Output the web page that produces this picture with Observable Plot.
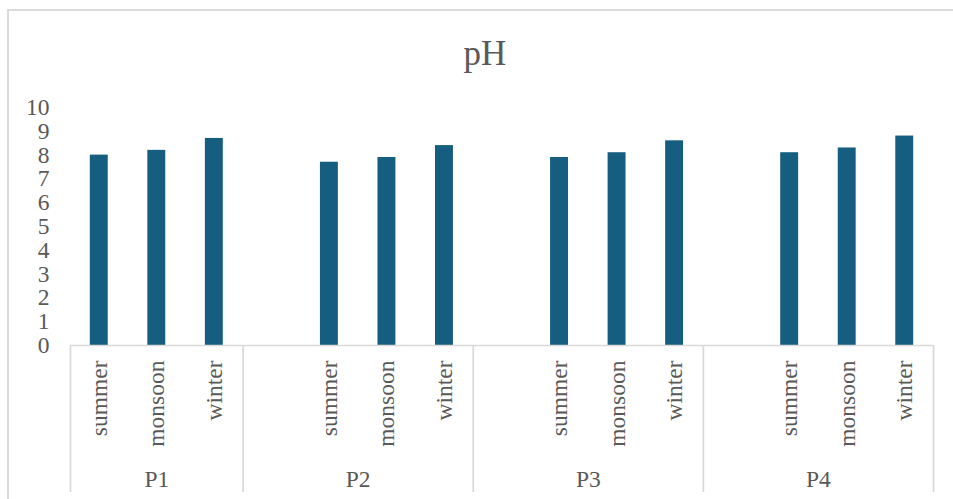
<!DOCTYPE html>
<html><head><meta charset="utf-8">
<script src="https://cdn.jsdelivr.net/npm/d3@7"></script>
<script src="https://cdn.jsdelivr.net/npm/@observablehq/plot@0.6"></script>
<style>
body{margin:0;background:#fff;}
#wrap{position:relative;width:953px;height:499px;overflow:hidden;font-family:"Liberation Serif","Times New Roman",serif;}
#border{position:absolute;left:7px;top:9px;width:1000px;height:600px;border-left:2px solid #dadada;border-top:2px solid #dadada;}
#title{position:absolute;left:485px;top:36px;transform:translateX(-50%);font-size:35px;line-height:35px;color:#595959;white-space:nowrap;}
#chart{position:absolute;left:0;top:0;}
</style>
</head><body>
<div id="wrap"><div id="border"></div><div id="title">pH</div><div id="chart"></div></div>
<script>
const groups = ["P1", "P2", "P3", "P4"];
const seasons = ["summer", "monsoon", "winter"];
const summer  = [8.0, 7.7, 7.9, 8.1];
const monsoon = [8.2, 7.9, 8.1, 8.3];
const winter  = [8.7, 8.4, 8.6, 8.8];
const leadingBlank = [0, 1, 1, 1]; // empty category rows before each group in the source table
const yTicks = [0, 1, 2, 3, 4, 5, 6, 7, 8, 9, 10];

const values = [summer, monsoon, winter];
const rows = [];
const bounds = [];
let slot = 0;
groups.forEach((g, gi) => {
  const start = slot;
  slot += leadingBlank[gi];
  seasons.forEach((s, si) => {
    rows.push({group: g, season: s, slot, value: values[si][gi]});
    slot++;
  });
  bounds.push({group: g, start, end: slot});
});
const edges = [0, ...bounds.map(b => b.end)];

const chart = Plot.plot({
  width: 953,
  height: 499,
  marginLeft: 70,
  marginRight: 20,
  marginTop: 107,
  marginBottom: 154,
  style: {fontFamily: '"Liberation Serif","Times New Roman",serif', fontSize: "23.5px", color: "#595959", background: "transparent", overflow: "visible"},
  x: {type: "linear", domain: [0, slot], axis: null},
  y: {domain: [0, 10], axis: null},
  marks: [
    Plot.axisY({ticks: yTicks, tickSize: 0, tickPadding: 21, tickFormat: d => String(d), label: null, fontSize: "23.5px"}),
    Plot.rectY(rows, {x1: "slot", x2: d => d.slot + 1, y: "value", fill: "#165e80", insetLeft: 19.8, insetRight: 19.8}),
    Plot.ruleY([0], {stroke: "#d9d9d9", strokeWidth: 1.7}),
    Plot.ruleX(edges, {x: d => d, y1: 0, y2: 0, insetBottom: -147, stroke: "#d9d9d9", strokeWidth: 1.7}),
    Plot.text(rows, {x: d => d.slot + 0.5, text: "season", frameAnchor: "bottom", rotate: -90, textAnchor: "end", lineAnchor: "middle", dy: 15, fontSize: "23.5px"}),
    Plot.text(bounds, {x: d => (d.start + d.end) / 2, text: "group", frameAnchor: "bottom", lineAnchor: "middle", dy: 134, fontSize: "23.5px"})
  ]
});
document.getElementById("chart").appendChild(chart);
</script>
</body></html>
